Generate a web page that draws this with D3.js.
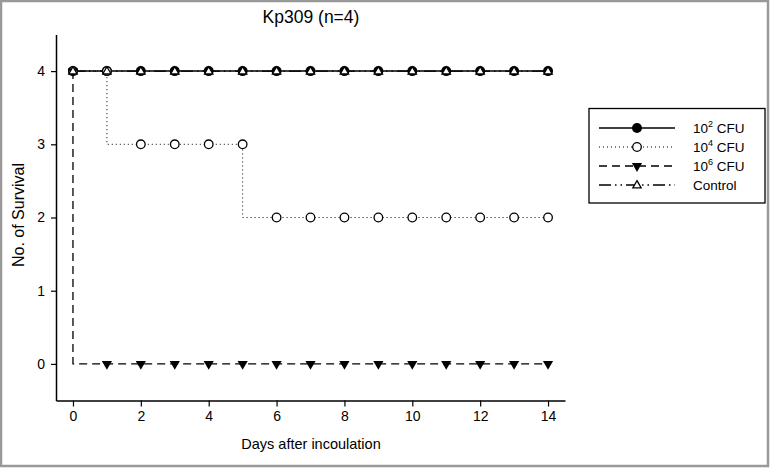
<!DOCTYPE html>
<html><head><meta charset="utf-8">
<script src="https://cdn.jsdelivr.net/npm/d3@7"></script>
<style>body{margin:0;background:#fff}svg{display:block;font-family:Arial,"Liberation Sans",sans-serif}</style>
</head><body>
<svg id="c" width="770" height="468"></svg>
<script>
const title = "Kp309 (n=4)";
const days = [0,1,2,3,4,5,6,7,8,9,10,11,12,13,14];
const cfu2 = [4,4,4,4,4,4,4,4,4,4,4,4,4,4,4];
const cfu4 = [4,4,3,3,3,3,2,2,2,2,2,2,2,2,2];
const cfu6 = [4,0,0,0,0,0,0,0,0,0,0,0,0,0,0];
const control = [4,4,4,4,4,4,4,4,4,4,4,4,4,4,4];
const seriesNames = ["2","4","6","Control"];
const xTicks = [0,2,4,6,8,10,12,14];
const yTicks = [0,1,2,3,4];

const svg = d3.select("#c");
svg.append("rect").attr("x",1).attr("y",1).attr("width",767).attr("height",465)
  .attr("fill","#fff").attr("stroke","#999").attr("stroke-width",2.5);

const x = d3.scaleLinear().domain([-0.5,14.5]).range([56,565]);
const y = d3.scaleLinear().domain([-0.5,4.5]).range([400.5,34.5]);

const g = svg.append("g");
const xAx = g.append("g").attr("transform",`translate(0,${y(-0.5)})`)
  .call(d3.axisBottom(x).tickValues(xTicks).tickSize(6).tickSizeOuter(0).tickPadding(5).tickFormat(d3.format("d")));
const yAx = g.append("g").attr("transform",`translate(${x(-0.5)},0)`)
  .call(d3.axisLeft(y).tickValues(yTicks).tickSize(5).tickSizeOuter(0).tickPadding(6).tickFormat(d3.format("d")));
[xAx,yAx].forEach(a=>{
  a.select(".domain").attr("stroke","#000").attr("stroke-width",1.5);
  a.selectAll(".tick line").attr("stroke","#000").attr("stroke-width",1.2);
  a.selectAll(".tick text").attr("font-size",14).attr("fill","#000").attr("font-family","Arial, 'Liberation Sans', sans-serif");
});

svg.append("text").attr("x",311).attr("y",23).attr("text-anchor","middle")
  .attr("font-size",17.5).attr("fill","#000").text(title);
svg.append("text").attr("x",311).attr("y",449).attr("text-anchor","middle")
  .attr("font-size",14.5).attr("fill","#000").text("Days after incoulation");
svg.append("text").attr("transform",`translate(24,215) rotate(-90)`).attr("text-anchor","middle")
  .attr("font-size",16).attr("fill","#000").text("No. of Survival");

const series = [
  {vals:cfu2, dash:null, w:1.5, marker:"fcircle"},
  {vals:cfu4, dash:"1,3", w:1, marker:"ocircle"},
  {vals:cfu6, dash:"8,5", w:1.3, marker:"ftri"},
  {vals:control, dash:"12,4,1.5,4,1.5,4", w:1.3, marker:"otri"}
];
const line = d3.line().x((d,i)=>x(days[i])).y(d=>y(d)).curve(d3.curveStepBefore);
function drawMarker(sel, type, cx, cy){
  if(type==="fcircle") sel.append("circle").attr("cx",cx).attr("cy",cy).attr("r",5).attr("fill","#000");
  else if(type==="ocircle") sel.append("circle").attr("cx",cx).attr("cy",cy).attr("r",4.3).attr("fill","#fff").attr("stroke","#000").attr("stroke-width",1.3);
  else if(type==="ftri") sel.append("path").attr("d",d3.symbol(d3.symbolTriangle,45)())
    .attr("transform",`translate(${cx},${cy}) rotate(180)`).attr("fill","#000");
  else sel.append("path").attr("d",d3.symbol(d3.symbolTriangle,30)())
    .attr("transform",`translate(${cx},${cy+0.5})`).attr("fill","#fff").attr("stroke","#000").attr("stroke-width",1.3);
}
[3,2,1,0].forEach(k=>{
  const s=series[k];
  g.append("path").attr("d",line(s.vals)).attr("fill","none").attr("stroke","#000")
    .attr("stroke-width",s.w).attr("stroke-dasharray",s.dash);
});
series.forEach(s=>{
  const mg=g.append("g");
  s.vals.forEach((v,i)=>drawMarker(mg,s.marker,x(days[i]),y(v)));
});

const lg = svg.append("g");
lg.append("rect").attr("x",589).attr("y",108.5).attr("width",176).attr("height",94.5)
  .attr("fill","#fff").attr("stroke","#000").attr("stroke-width",1.3);
const rowsY=[128,147,166,185];
series.forEach((s,k)=>{
  const yy=rowsY[k];
  lg.append("line").attr("x1",599).attr("x2",675).attr("y1",yy).attr("y2",yy)
    .attr("stroke","#000").attr("stroke-width",s.w).attr("stroke-dasharray",s.dash);
  drawMarker(lg,s.marker,637,yy);
  const t=lg.append("text").attr("x",693).attr("y",yy+5).attr("font-size",13.5).attr("fill","#000");
  if(seriesNames[k]==="Control") t.text("Control");
  else { t.append("tspan").text("10");
    t.append("tspan").attr("dy",-6).attr("font-size",9).text(seriesNames[k]);
    t.append("tspan").attr("dy",6).text(" CFU"); }
});
</script>
</body></html>
